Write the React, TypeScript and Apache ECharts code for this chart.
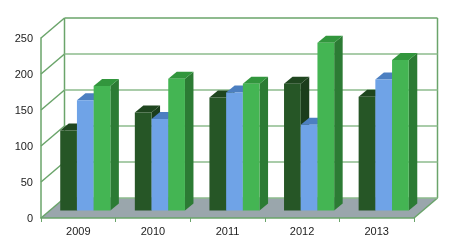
import React, { useEffect, useRef } from "react";
import * as echarts from "echarts";

const YEARS = ["2009", "2010", "2011", "2012", "2013"];
const SERIES_A = [111, 136, 157, 176, 158];
const SERIES_B = [153, 127, 164, 119, 182];
const SERIES_C = [173, 183, 176, 233, 209];
const Y_TICKS = [0, 50, 100, 150, 200, 250];

const FONT = "'Liberation Sans', Arial, sans-serif";
const FRAME = "#6aa46a";
const GRIDC = "#8dbb8d";
const DX = 23.5;
const DY = -20;
const BX = 7;
const BY = -7.5;
const BDX = 8.5;
const BDY = -7;

const PALETTE = [
  { front: "#265626", top: "#1f461f", side: "#1b3d1b" },
  { front: "#6fa3e7", top: "#4c7fc1", side: "#4876b3" },
  { front: "#44b553", top: "#32963d", side: "#2c7b34" },
];

function barSeries(values: number[], s: number) {
  const pal = PALETTE[s];
  return {
    type: "custom",
    z: 3,
    data: values.map((v, i) => [i, v]),
    encode: { x: 0, y: 1 },
    renderItem: (params: any, api: any) => {
      const i = api.value(0);
      const v = api.value(1);
      const top = api.coord([i, v]);
      const base = api.coord([i, 0]);
      const bw = api.size([1, 0])[0];
      const w = bw * 0.224;
      const cx = top[0] + BX;
      const x = cx - 1.5 * w + s * w;
      const yT = top[1] + BY;
      const yB = base[1] + BY;
      return {
        type: "group",
        children: [
          {
            type: "polygon",
            shape: {
              points: [
                [x + w, yT],
                [x + w + BDX, yT + BDY],
                [x + w + BDX, yB + BDY],
                [x + w, yB],
              ],
            },
            style: { fill: pal.side },
          },
          {
            type: "polygon",
            shape: {
              points: [
                [x, yT],
                [x + w, yT],
                [x + w + BDX, yT + BDY],
                [x + BDX, yT + BDY],
              ],
            },
            style: { fill: pal.top },
          },
          {
            type: "rect",
            shape: { x: x, y: yT, width: w, height: yB - yT },
            style: { fill: pal.front },
          },
        ],
      };
    },
  };
}

export default function App() {
  const ref = useRef<HTMLDivElement>(null);
  useEffect(() => {
    if (!ref.current) return;
    const chart = echarts.init(ref.current, null, { renderer: "svg" });
    const frameSeries = {
      type: "custom",
      z: 1,
      data: Y_TICKS.map((v) => [0, v]),
      encode: { x: 0, y: 1 },
      renderItem: (params: any, api: any) => {
        const cs = params.coordSys;
        const v = api.value(1);
        const y = api.coord([0, v])[1];
        const left = cs.x;
        const right = cs.x + cs.width;
        const children: any[] = [];
        if (v === 0) {
          children.push({
            type: "polygon",
            shape: {
              points: [
                [left, y],
                [left + DX, y + DY],
                [right + DX, y + DY],
                [right, y],
              ],
            },
            style: { fill: "#9aa6ac" },
          });
          children.push({
            type: "line",
            shape: { x1: right, y1: y, x2: right + DX, y2: y + DY },
            style: { stroke: FRAME, lineWidth: 1.5 },
          });
          children.push({
            type: "line",
            shape: { x1: left + DX, y1: cs.y + DY, x2: left + DX, y2: y + DY },
            style: { stroke: FRAME, lineWidth: 1.5 },
          });
          children.push({
            type: "line",
            shape: { x1: right + DX, y1: cs.y + DY, x2: right + DX, y2: y + DY },
            style: { stroke: FRAME, lineWidth: 1.5 },
          });
        }
        children.push({
          type: "line",
          shape: { x1: left, y1: y, x2: left + DX, y2: y + DY },
          style: { stroke: FRAME, lineWidth: 1.5 },
        });
        children.push({
          type: "line",
          shape: { x1: left + DX, y1: y + DY, x2: right + DX, y2: y + DY },
          style: { stroke: v === 250 ? FRAME : GRIDC, lineWidth: 1.5 },
        });
        return { type: "group", children };
      },
    };
    chart.setOption({
      animation: false,
      grid: { left: 41, right: 41, top: 38, bottom: 32 },
      xAxis: {
        type: "category",
        data: YEARS,
        z: 5,
        axisLine: { lineStyle: { color: FRAME, width: 1.5 } },
        axisTick: { show: true, length: 4, lineStyle: { color: FRAME, width: 1 } },
        axisLabel: { color: "#222", fontSize: 11, fontFamily: FONT, margin: 7 },
      },
      yAxis: {
        type: "value",
        min: 0,
        max: 250,
        interval: 50,
        z: 5,
        axisLine: { show: true, lineStyle: { color: FRAME, width: 1.5 } },
        axisTick: { show: false },
        splitLine: { show: false },
        axisLabel: { color: "#222", fontSize: 11, fontFamily: FONT, margin: 8 },
      },
      series: [
        frameSeries,
        barSeries(SERIES_A, 0),
        barSeries(SERIES_B, 1),
        barSeries(SERIES_C, 2),
      ],
    });
    return () => chart.dispose();
  }, []);
  return (
    <div
      ref={ref}
      style={{ position: "fixed", left: 0, top: 0, width: 455, height: 250 }}
    />
  );
}
